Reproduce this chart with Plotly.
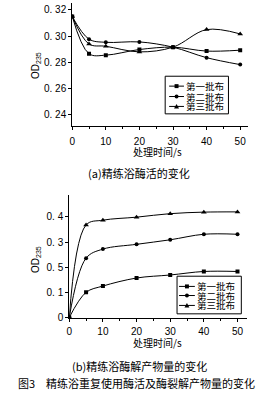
import plotly.graph_objects as go

# ---- data ----
time_s = [0, 5, 10, 20, 30, 40, 50]
series_names = ["第一批布", "第二批布", "第三批布"]

# (a) enzyme activity OD235
act_batch1 = [0.315, 0.2866, 0.2855, 0.2898, 0.2916, 0.2886, 0.2893]
act_batch2 = [0.315, 0.2977, 0.2953, 0.2956, 0.2916, 0.2836, 0.2783]
act_batch3 = [0.315, 0.2940, 0.2923, 0.2880, 0.2916, 0.3050, 0.3017]

# (b) product amount OD235
prod_batch1 = [0.0, 0.100, 0.125, 0.157, 0.169, 0.183, 0.183]
prod_batch2 = [0.0, 0.236, 0.272, 0.291, 0.309, 0.331, 0.331]
prod_batch3 = [0.0, 0.368, 0.387, 0.399, 0.413, 0.419, 0.420]

x_ticks = [0, 10, 20, 30, 40, 50]
a_y_ticks = [0.24, 0.26, 0.28, 0.30, 0.32]
a_y_text = ["0. 24", "0. 26", "0. 28", "0. 30", "0. 32"]
b_y_ticks = [0, 0.1, 0.2, 0.3, 0.4]
b_y_text = ["0", "0. 1", "0. 5", "0. 3", "0. 4"]

symbols = ["square", "circle", "triangle-up"]
sizes = [4, 4, 5]

W, H = 270, 401
CJK = "Noto Sans CJK SC"
NUM = "Liberation Sans"

fig = go.Figure()

for i, ys in enumerate([act_batch1, act_batch2, act_batch3]):
    fig.add_trace(go.Scatter(
        x=time_s, y=ys, name=series_names[i], mode="lines+markers",
        line=dict(color="black", width=1, shape="spline", smoothing=1.0),
        marker=dict(symbol=symbols[i], size=sizes[i], color="black"),
        xaxis="x", yaxis="y", showlegend=False))

for i, ys in enumerate([prod_batch1, prod_batch2, prod_batch3]):
    fig.add_trace(go.Scatter(
        x=time_s, y=ys, name=series_names[i], mode="lines+markers",
        line=dict(color="black", width=1, shape="spline", smoothing=1.0),
        marker=dict(symbol=symbols[i], size=sizes[i], color="black"),
        xaxis="x2", yaxis="y2", showlegend=False))

axis_common = dict(showgrid=False, zeroline=False, showline=True, linecolor="black",
                   linewidth=1, ticks="outside", ticklen=3, tickcolor="black",
                   tickfont=dict(family=NUM, size=10, color="black"))

fig.update_layout(
    width=W, height=H, margin=dict(l=0, r=0, t=0, b=0),
    paper_bgcolor="white", plot_bgcolor="white", showlegend=False,
    xaxis=dict(domain=[70 / W, 248 / W], range=[0, 52.4], tickvals=x_ticks,
               minor=dict(ticks="outside", ticklen=2, tickcolor="black", dtick=5),
               ticklabelstandoff=3, anchor="y", **axis_common),
    yaxis=dict(domain=[(H - 127) / H, (H - 3) / H], range=[0.2317, 0.3253],
               tickvals=a_y_ticks, ticktext=a_y_text, anchor="x", **axis_common),
    xaxis2=dict(domain=[67 / W, 247 / W], range=[0, 52.9], tickvals=x_ticks,
                minor=dict(ticks="outside", ticklen=2, tickcolor="black", dtick=5),
                ticklabelstandoff=1, anchor="y2", **axis_common),
    yaxis2=dict(domain=[(H - 321.7) / H, (H - 197) / H], range=[-0.004, 0.487],
                tickvals=b_y_ticks, ticktext=b_y_text, anchor="x2", **axis_common),
)

def px_x(x):
    return x / W

def px_y(y):
    return 1 - y / H

def txt(x, y, s, size=10, angle=0, family=CJK, anchor="center", height=None):
    fig.add_annotation(x=px_x(x), y=px_y(y), xref="paper", yref="paper", text=s,
                       showarrow=False, textangle=angle, height=height,
                       font=dict(family=family, size=size, color="black"),
                       xanchor=anchor, yanchor="middle")

# manual compact legends
def legend_box(x0, x1, y0, y1, rows, lx0, lx1, tx):
    fig.add_shape(type="rect", xref="paper", yref="paper",
                  x0=px_x(x0), x1=px_x(x1), y0=px_y(y1), y1=px_y(y0),
                  line=dict(color="black", width=1), fillcolor="white", layer="above")
    for i, ry in enumerate(rows):
        fig.add_shape(type="line", xref="paper", yref="paper",
                      x0=px_x(lx0), x1=px_x(lx1), y0=px_y(ry), y1=px_y(ry),
                      line=dict(color="black", width=1), layer="above")
        mx = (lx0 + lx1) / 2
        if symbols[i] == "square":
            fig.add_shape(type="rect", xref="paper", yref="paper",
                          x0=px_x(mx - 2), x1=px_x(mx + 2), y0=px_y(ry + 2), y1=px_y(ry - 2),
                          line=dict(color="black", width=0), fillcolor="black", layer="above")
        elif symbols[i] == "circle":
            fig.add_shape(type="circle", xref="paper", yref="paper",
                          x0=px_x(mx - 2), x1=px_x(mx + 2), y0=px_y(ry + 2), y1=px_y(ry - 2),
                          line=dict(color="black", width=0), fillcolor="black", layer="above")
        else:
            path = "M {} {} L {} {} L {} {} Z".format(
                px_x(mx - 2.5), px_y(ry + 2), px_x(mx + 2.5), px_y(ry + 2),
                px_x(mx), px_y(ry - 2.5))
            fig.add_shape(type="path", xref="paper", yref="paper", path=path,
                          line=dict(color="black", width=0), fillcolor="black", layer="above")
        txt(tx, ry, series_names[i], size=9.5, anchor="left", height=10)

legend_box(164, 228, 77, 115, [87, 97.5, 107.5], 168, 183, 183)
legend_box(176, 241, 279, 317, [289.3, 298.5, 308.5], 178, 194, 194)

txt(34, 66, "OD<sub>235</sub>", size=10, angle=-90, family=NUM)
txt(156, 153, "处理时间/s", size=10)
txt(138, 175, "(a)精练浴酶活的变化", size=11)
txt(34, 262, "OD<sub>235</sub>", size=10, angle=-90, family=NUM)
txt(156, 346, "处理时间/s", size=10)
txt(138, 370, "(b)精练浴酶解产物量的变化", size=11)
txt(135, 387, "图3　精练浴重复使用酶活及酶裂解产物量的变化", size=11)

fig.write_html("out.html")
